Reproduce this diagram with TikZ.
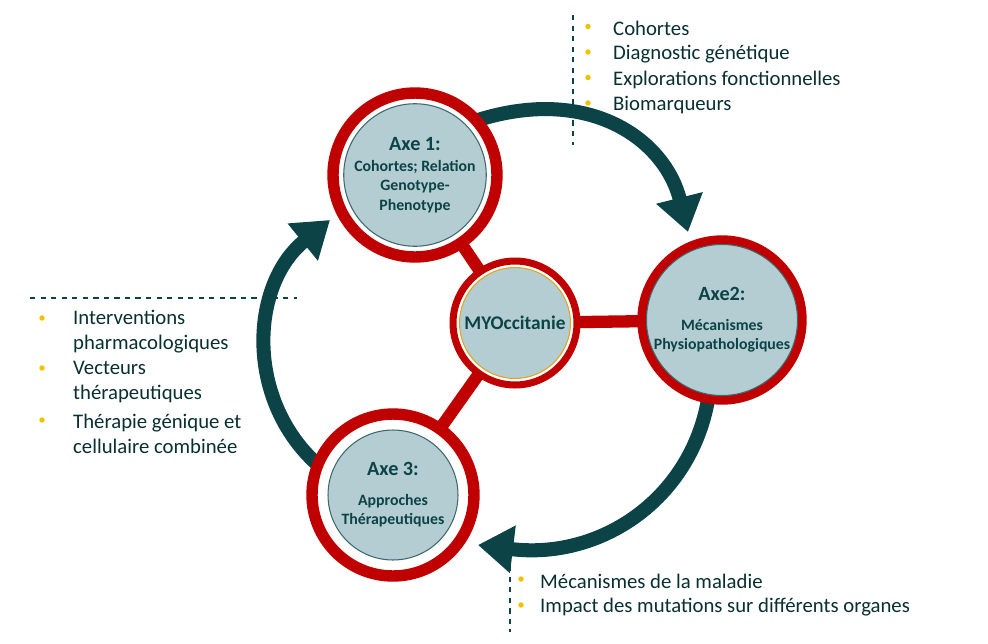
\documentclass[tikz,border=0pt]{standalone}
\usepackage{fontspec}
\setmainfont{Carlito}
\usetikzlibrary{arrows.meta}
\definecolor{ringred}{HTML}{C00000}
\definecolor{axefill}{HTML}{B4CDD2}
\definecolor{darkteal}{HTML}{0B4347}
\definecolor{bulletgold}{HTML}{F2C200}
\tikzset{>=latex,
	ring/.style={circle, draw=ringred, line width=6.5pt, fill=white, minimum size=#1},
	axe/.style={circle, draw=darkteal!80, line width=0.6pt, fill=axefill, minimum size=#1, inner sep=0pt, align=center, text=darkteal, font=\bfseries\fontsize{9}{11}\selectfont},
	link/.style={ringred, line width=7pt},
	cycle/.style={darkteal, line width=8pt, -{Triangle[width=26pt,length=20pt]}},
	item/.style={anchor=west, text=darkteal!70!black, font=\fontsize{11.8}{14.2}\selectfont, align=left},
	dot/.style={circle, fill=bulletgold, inner sep=1.1pt},
	sep/.style={darkteal, dashed, line width=0.7pt}
}
\begin{document}
\begin{tikzpicture}[x=0.02cm, y=-0.02cm]
	\useasboundingbox (0,0) rectangle (988,643);

	% arcs between axes
	\draw[cycle] (478,120) .. controls (590,85) and (665,140) .. (688,232);
	\draw[cycle] (708,400) .. controls (690,500) and (600,560) .. (478,545);
	\draw[cycle] (318,465) .. controls (245,400) and (250,285) .. (330,220);

	% links and rings
	\coordinate (c0) at (515,323);
	\draw[link] (c0) -- (415,175);
	\draw[link] (c0) -- (722,320);
	\draw[link] (c0) -- (393,495);
	\node[ring=3.28cm] (r1) at (415,175) {};
	\node[ring=3.16cm] (r2) at (722,320) {};
	\node[ring=3.24cm] (r3) at (393,495) {};
	\node[ring=2.48cm, line width=4pt] (r0) at (c0) {};

	% centres
	\node[axe=2.62cm] (a1) at (r1) {{\fontsize{11.5}{13}\selectfont Axe 1:}\\[1pt]Cohortes; Relation\\Genotype-\\Phenotype};
	\node[axe=2.48cm] (a2) at (r2) {{\fontsize{11.5}{13}\selectfont Axe2:}\\[6pt]Mécanismes\\Physiopathologiques};
	\node[axe=2.6cm] (a3) at (r3) {{\fontsize{11.5}{13}\selectfont Axe 3:}\\[6pt]Approches\\Thérapeutiques};
	\node[axe=2.22cm, draw=bulletgold!60!brown, font=\bfseries\fontsize{11}{13}\selectfont] (a0) at (r0) {MYOccitanie};

	% lists
	\coordinate (s1a) at (573,15); \coordinate (s1b) at (573,145);
	\draw[sep] (s1a) -- (s1b);
	\foreach \t [count=\i] in {Cohortes, Diagnostic génétique, Explorations fonctionnelles, Biomarqueurs} {
		\node[dot] at (588,1+25.5*\i) {};
		\node[item] at (607,3+25.5*\i) {\t};
	}

	\coordinate (s2a) at (30,298); \coordinate (s2b) at (297,298);
	\draw[sep] (s2a) -- (s2b);
	\foreach \t/\y in {Interventions\\pharmacologiques/332, Vecteurs\\thérapeutiques/382, Thérapie génique et\\cellulaire combinée/434} {
		\node[dot] at (42,\y-14) {};
		\node[item] at (67,\y) {\t};
	}

	\coordinate (s3a) at (510,545); \coordinate (s3b) at (510,632);
	\draw[sep] (s3a) -- (s3b);
	\foreach \t/\y in {Mécanismes de la maladie/581, Impact des mutations sur différents organes/607} {
		\node[dot] at (521,\y-2) {};
		\node[item] at (534,\y) {\t};
	}
\end{tikzpicture}
\end{document}
